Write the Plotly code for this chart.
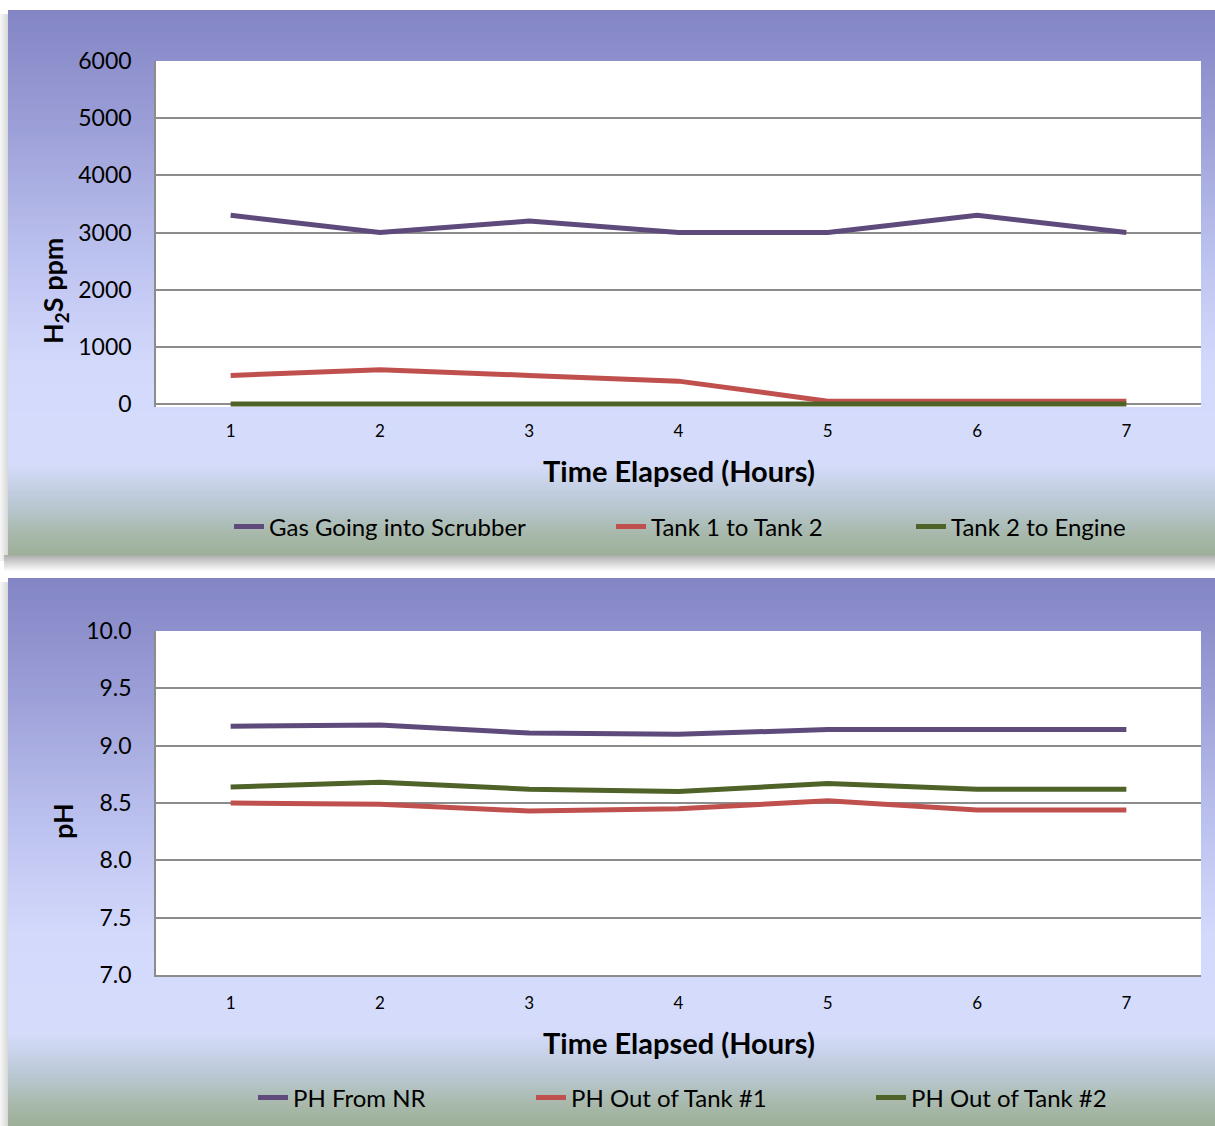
import plotly.graph_objects as go

# ---- data -------------------------------------------------------------
hours = [1, 2, 3, 4, 5, 6, 7]

gas_into_scrubber = [3300, 3000, 3200, 3000, 3000, 3300, 3000]
tank1_to_tank2 = [500, 600, 500, 400, 50, 50, 50]
tank2_to_engine = [0, 0, 0, 0, 0, 0, 0]

ph_from_nr = [9.17, 9.18, 9.11, 9.10, 9.14, 9.14, 9.14]
ph_out_tank1 = [8.50, 8.49, 8.43, 8.45, 8.52, 8.44, 8.44]
ph_out_tank2 = [8.64, 8.68, 8.62, 8.60, 8.67, 8.62, 8.62]

h2s_names = ["Gas Going into Scrubber", "Tank 1 to Tank 2", "Tank 2 to Engine"]
ph_names = ["PH From NR", "PH Out of Tank #1", "PH Out of Tank #2"]

PURPLE = "#5f4a7c"
RED = "#c0504d"
GREEN = "#4f6228"

W, H = 1215, 1126
FONT = "Lato"


def px(x):
    return x / W


def py(y):
    return 1 - y / H


# ---- panel background gradient ---------------------------------------
STOPS = [
    (0.00, (131, 133, 196)),
    (0.20, (154, 157, 214)),
    (0.45, (188, 194, 239)),
    (0.65, (211, 217, 251)),
    (0.83, (213, 220, 251)),
    (0.90, (188, 202, 216)),
    (0.96, (168, 185, 172)),
    (1.00, (156, 175, 152)),
]


def grad_color(t):
    for (t0, c0), (t1, c1) in zip(STOPS[:-1], STOPS[1:]):
        if t <= t1:
            f = (t - t0) / (t1 - t0) if t1 > t0 else 0
            return "rgb(%d,%d,%d)" % tuple(round(a + (b - a) * f) for a, b in zip(c0, c1))
    return "rgb(%d,%d,%d)" % STOPS[-1][1]


shapes = []


def panel(y_top, y_bot, x_left=8, step=3):
    # soft drop shadow on the left and below
    for i in range(8):
        g = 245 - i * 4
        shapes.append(dict(type="rect", xref="paper", yref="paper", layer="below",
                           x0=px(x_left - 8 + i), x1=px(x_left - 7 + i),
                           y0=py(y_bot + 6), y1=py(y_top + 4),
                           fillcolor="rgb(%d,%d,%d)" % (g, g, g), line_width=0))
    for i in range(16):
        g = 175 + i * 5
        shapes.append(dict(type="rect", xref="paper", yref="paper", layer="below",
                           x0=px(x_left - 4), x1=1,
                           y0=py(y_bot + i + 1), y1=py(y_bot + i),
                           fillcolor="rgb(%d,%d,%d)" % (g, g, g), line_width=0))
    y = y_top
    while y < y_bot:
        y2 = min(y + step, y_bot)
        t = ((y + y2) / 2 - y_top) / (y_bot - y_top)
        shapes.append(dict(type="rect", xref="paper", yref="paper", layer="below",
                           x0=px(x_left), x1=1, y0=py(y2 + 0.5), y1=py(y),
                           fillcolor=grad_color(t), line_width=0))
        y = y2


panel(10, 555)
panel(578, 1126)

# white plotting areas
for xr, yr in (("x", "y"), ("x2", "y2")):
    shapes.append(dict(type="rect", xref=xr + " domain", yref=yr + " domain", layer="below",
                       x0=0, x1=1, y0=0, y1=1, fillcolor="white", line_width=0))

fig = go.Figure()

for vals, name, color, leg in zip(
        [gas_into_scrubber, tank1_to_tank2, tank2_to_engine], h2s_names,
        [PURPLE, RED, GREEN], ["legend", "legend2", "legend3"]):
    fig.add_trace(go.Scatter(x=hours, y=vals, name=name, mode="lines",
                             line=dict(color=color, width=5), xaxis="x", yaxis="y",
                             legend=leg, showlegend=True))

for vals, name, color, leg in zip(
        [ph_from_nr, ph_out_tank1, ph_out_tank2], ph_names,
        [PURPLE, RED, GREEN], ["legend4", "legend5", "legend6"]):
    fig.add_trace(go.Scatter(x=hours, y=vals, name=name, mode="lines",
                             line=dict(color=color, width=5), xaxis="x2", yaxis="y2",
                             legend=leg, showlegend=True))

GRID = "#8c8c8c"
xcommon = dict(range=[0.5, 7.5], tickmode="array", tickvals=hours, showgrid=False,
               zeroline=False, ticks="outside", tickcolor="rgba(0,0,0,0)",
               tickfont=dict(family=FONT, size=17, color="#000"))
ycommon = dict(showgrid=True, gridcolor=GRID, gridwidth=1.5, zeroline=False,
               showline=True, linecolor=GRID, linewidth=1.5,
               ticks="outside", ticklen=18, tickcolor="rgba(0,0,0,0)",
               tickfont=dict(family=FONT, size=23, color="#000"))

legend_common = dict(orientation="h", bgcolor="rgba(0,0,0,0)", xanchor="left",
                     yanchor="middle", font=dict(family=FONT, size=24, color="#000"))

# legend text starting positions (px) and row centres
leg_pos = [(269, 527), (651, 527), (951, 527), (293, 1098), (571, 1098), (911, 1098)]
legends = {}
for i, (xt, yc) in enumerate(leg_pos):
    key = "legend" if i == 0 else "legend%d" % (i + 1)
    legends[key] = dict(legend_common, x=px(xt - 40), y=py(yc))


def label(text, x, y, size, angle=0):
    return dict(text=text, xref="paper", yref="paper", x=px(x), y=py(y),
                xanchor="center", yanchor="middle", showarrow=False, textangle=angle,
                font=dict(family=FONT, size=size, color="#000"))


fig.update_layout(
    width=W, height=H, margin=dict(l=0, r=0, t=0, b=0, autoexpand=False),
    showlegend=True,
    paper_bgcolor="white", plot_bgcolor="rgba(0,0,0,0)",
    font=dict(family=FONT, color="#000"),
    shapes=shapes,
    xaxis=dict(xcommon, domain=[px(156), px(1201)], anchor="y", showline=False,
               ticklen=9),
    yaxis=dict(ycommon, domain=[py(407), py(61)], anchor="x",
               range=[-52.5, 6000], tick0=0, dtick=1000),
    xaxis2=dict(xcommon, domain=[px(156), px(1201)], anchor="y2",
                showline=True, linecolor=GRID, linewidth=1.5, ticklen=12),
    yaxis2=dict(ycommon, domain=[py(975), py(631)], anchor="x2",
                range=[7, 10], tick0=7, dtick=0.5, tickformat=".1f"),
    annotations=[
        label("<b>Time Elapsed (Hours)</b>", 678.5, 470, 29),
        label("<b>Time Elapsed (Hours)</b>", 678.5, 1042, 29),
        label("<b>H<sub>2</sub>S ppm</b>", 55, 291, 27, -90),
        label("<b>pH</b>", 62, 821, 27, -90),
    ],
    **legends,
)

fig.write_html("out.html")
